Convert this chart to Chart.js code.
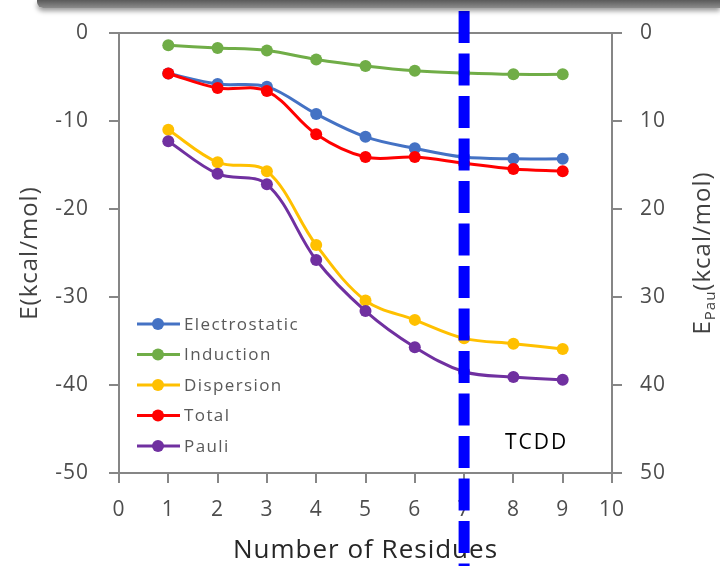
<!DOCTYPE html>
<html>
<head>
<meta charset="utf-8">
<script src="https://cdn.jsdelivr.net/npm/chart.js@4/dist/chart.umd.min.js"></script>
<style>
html,body{margin:0;padding:0;background:#fff;}
#wrap{position:relative;width:720px;height:566px;overflow:hidden;}
#topbar{position:absolute;left:37px;right:0;top:0;height:8px;background:linear-gradient(#5a5a5a,#8c8c8c);box-shadow:0 3px 5px rgba(0,0,0,.4);border-bottom-left-radius:6px;}
</style>
</head>
<body>
<div id="wrap">
<canvas id="chart-res" width="720" height="566"></canvas>
<div id="topbar"></div>
</div>
<script>
/* dados */
var residues=[1,2,3,4,5,6,7,8,9];
var electrostatic=[-4.6,-5.8,-6.1,-9.2,-11.8,-13.1,-14.1,-14.3,-14.3];
var induction=[-1.4,-1.7,-2.0,-3.0,-3.75,-4.3,-4.55,-4.7,-4.7];
var dispersion=[-11.0,-14.7,-15.7,-24.1,-30.4,-32.6,-34.7,-35.3,-35.9];
var total=[-4.6,-6.25,-6.6,-11.5,-14.1,-14.1,-14.8,-15.45,-15.7];
var pauli=[12.3,16.0,17.2,25.8,31.6,35.7,38.5,39.1,39.4];
var xTicks=[0,1,2,3,4,5,6,7,8,9,10];
var yLeftTicks=[-50,-40,-30,-20,-10,0];
var yRightTicks=[0,10,20,30,40,50];
var cutoff=7;

var FONT="'Open Sans', sans-serif";
var AXC='#868686', TXT='#4d4d4d';

function pts(arr){return residues.map(function(r,i){return {x:r,y:arr[i]};});}
function ds(label,arr,color,axis,order){
  return {label:label,data:pts(arr),borderColor:color,backgroundColor:color,pointBackgroundColor:color,pointBorderWidth:0,pointRadius:6,borderWidth:3,tension:0.35,yAxisID:axis,order:order};
}

/* caixa, legenda, linha tracejada, títulos */
var extras={
  id:'extras',
  beforeDraw:function(c){c.ctx.letterSpacing='1px';},
  afterDraw:function(c){
    var ctx=c.ctx,a=c.chartArea,xs=c.scales.x;
    ctx.save();
    // borda superior
    ctx.strokeStyle=AXC;ctx.lineWidth=2;
    ctx.beginPath();ctx.moveTo(a.left,a.top);ctx.lineTo(a.right,a.top);ctx.stroke();
    // legenda
    ctx.font='17px '+FONT;ctx.letterSpacing='1.4px';ctx.textBaseline='middle';ctx.textAlign='left';
    c.data.datasets.forEach(function(d,i){
      var y=324+i*30.5;
      ctx.strokeStyle=d.borderColor;ctx.lineWidth=3;
      ctx.beginPath();ctx.moveTo(137,y);ctx.lineTo(180,y);ctx.stroke();
      ctx.fillStyle=d.borderColor;ctx.beginPath();ctx.arc(158,y,6,0,Math.PI*2);ctx.fill();
      ctx.fillStyle='#595959';ctx.fillText(d.label,184,y+1);
    });
    // TCDD
    ctx.fillStyle='#000';ctx.font='21px '+FONT;ctx.letterSpacing='2px';ctx.fillText('TCDD',505,443);
    // título eixo direito com subscrito
    ctx.letterSpacing='1px';
    ctx.translate(703,253);ctx.rotate(-Math.PI/2);
    ctx.fillStyle='#404040';ctx.textBaseline='middle';
    var big='24px '+FONT,small='15px '+FONT;
    ctx.font=big;var wE=ctx.measureText('E').width,wR=ctx.measureText('(kcal/mol)').width;
    ctx.font=small;var wP=ctx.measureText('Pau').width;
    var x0=-(wE+wP+wR)/2;
    ctx.font=big;ctx.fillText('E',x0,0);
    ctx.font=small;ctx.fillText('Pau',x0+wE,8);
    ctx.font=big;ctx.fillText('(kcal/mol)',x0+wE+wP,0);
    ctx.restore();
    // linha tracejada em x=7
    ctx.save();
    var px=xs.getPixelForValue(cutoff);
    ctx.strokeStyle='#0000ff';ctx.lineWidth=11;ctx.setLineDash([32,10.5]);
    ctx.beginPath();ctx.moveTo(px,11);ctx.lineTo(px,566);ctx.stroke();
    ctx.restore();
  }
};

var tickFont={family:FONT,size:21};
new Chart(document.getElementById('chart-res'),{
  type:'line',
  data:{datasets:[
    ds('Electrostatic',electrostatic,'#4472c4','y',2),
    ds('Induction',induction,'#70ad47','y',2),
    ds('Dispersion',dispersion,'#ffc000','y',2),
    ds('Total',total,'#ff0000','y',1),
    ds('Pauli',pauli,'#7030a0','y2',1)
  ]},
  options:{
    responsive:false,animation:false,
    layout:{padding:{top:33,left:0,right:0,bottom:0}},
    plugins:{legend:{display:false},tooltip:{enabled:false}},
    scales:{
      x:{type:'linear',min:0,max:10,
        afterBuildTicks:function(s){s.ticks=xTicks.map(function(v){return {value:v};});},
        afterFit:function(s){s.height=93;},
        grid:{drawOnChartArea:false,tickLength:10,color:AXC,lineWidth:2},
        border:{color:AXC,width:2},
        ticks:{font:tickFont,color:TXT,padding:14,maxRotation:0},
        title:{display:true,text:'Number of Residues',font:{family:FONT,size:26},color:'#262626',padding:{top:0,bottom:0}}},
      y:{position:'left',min:-50,max:0,
        afterBuildTicks:function(s){s.ticks=yLeftTicks.map(function(v){return {value:v};});},
        afterFit:function(s){s.width=119;},
        grid:{drawOnChartArea:false,tickLength:10,color:AXC,lineWidth:2},
        border:{color:AXC,width:2},
        ticks:{font:tickFont,color:TXT,padding:20},
        title:{display:true,text:'E(kcal/mol)',font:{family:FONT,size:24},color:'#404040',padding:{top:16,bottom:0}}},
      y2:{position:'right',min:0,max:50,reverse:true,
        afterBuildTicks:function(s){s.ticks=yRightTicks.map(function(v){return {value:v};});},
        afterFit:function(s){s.width=108;},
        grid:{drawOnChartArea:false,tickLength:10,color:AXC,lineWidth:2},
        border:{color:AXC,width:2},
        ticks:{font:tickFont,color:TXT,padding:18}}
    }
  },
  plugins:[extras]
});
</script>
</body>
</html>
